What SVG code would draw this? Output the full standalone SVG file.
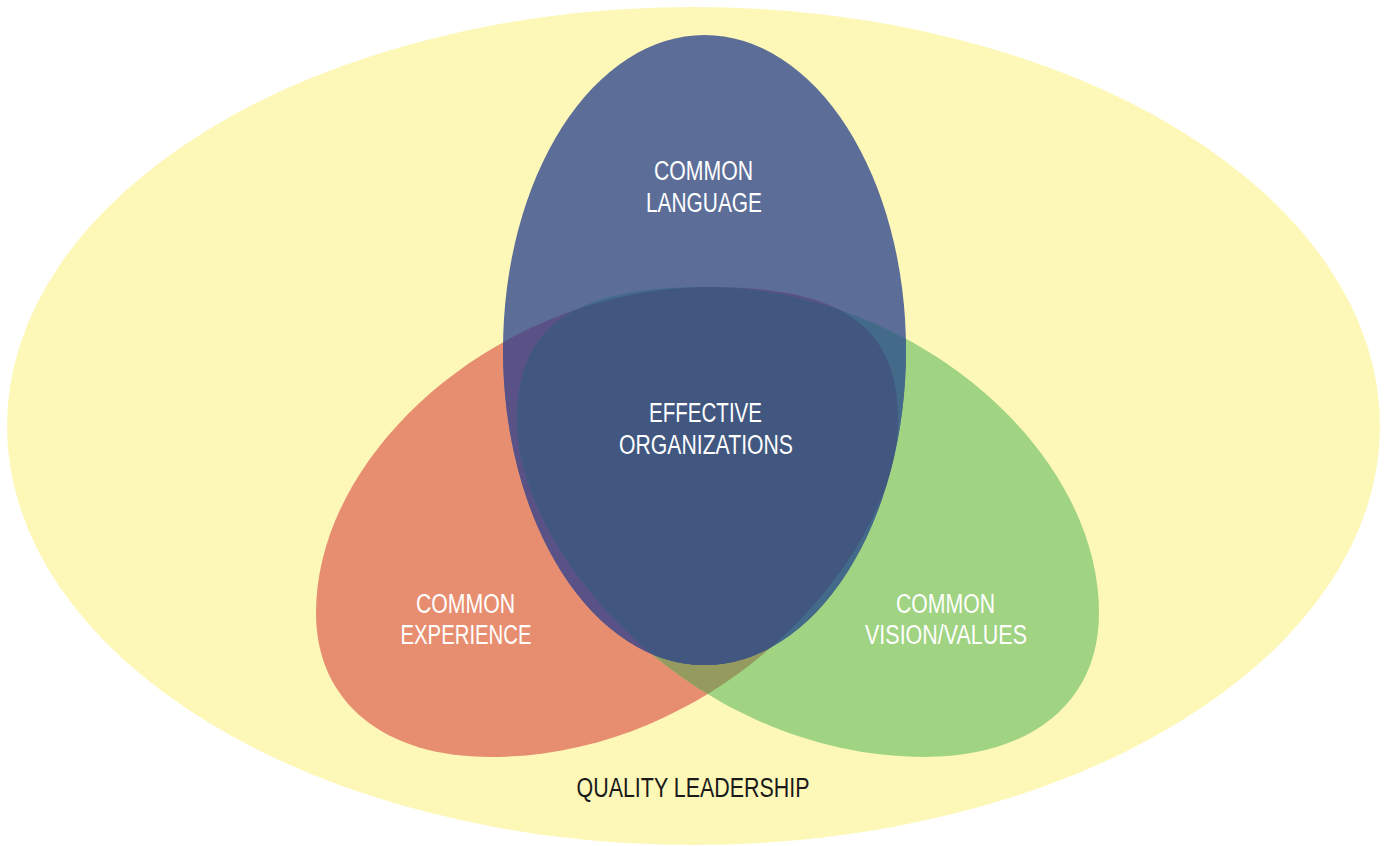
<svg xmlns="http://www.w3.org/2000/svg" xmlns:xlink="http://www.w3.org/1999/xlink" width="1387" height="846" viewBox="0 0 1387 846">
<style>
.lbl{font-family:"Liberation Sans",Arial,sans-serif;font-size:27px;fill:#ffffff;text-anchor:middle}
.dark{fill:#1a1a1a}
</style>
<defs>
<ellipse id="blueShape" cx="704.5" cy="350" rx="201.5" ry="315"/>
<path id="redShape" d="M316,613 C316,448 505,287 710,287 C840,287 898,325 898,420 C898,555 720,757 490,757 C385,757 316,703 316,613 Z"/>
<clipPath id="clipRed"><use xlink:href="#redShape"/></clipPath>
<clipPath id="clipGreen"><use xlink:href="#redShape" transform="translate(1415,0) scale(-1,1)"/></clipPath>
<clipPath id="clipBlue"><use xlink:href="#blueShape"/></clipPath>
</defs>
<g id="quality-leadership">
<ellipse cx="693.5" cy="426" rx="686.5" ry="419" fill="#fdf8b8"/>
<text class="lbl dark" x="693" y="797" textLength="233" lengthAdjust="spacingAndGlyphs">QUALITY LEADERSHIP</text>
</g>
<g id="common-experience">
<use xlink:href="#redShape" fill="#e88e70"/>
</g>
<g id="common-vision">
<use xlink:href="#redShape" transform="translate(1415,0) scale(-1,1)" fill="#a0d382"/>
<g clip-path="url(#clipRed)"><use xlink:href="#redShape" transform="translate(1415,0) scale(-1,1)" fill="#959b5e"/></g>
</g>
<g id="common-language">
<use xlink:href="#blueShape" fill="#5c6e98"/>
<g clip-path="url(#clipBlue)"><use xlink:href="#redShape" fill="#5a5186"/></g>
<g clip-path="url(#clipBlue)"><use xlink:href="#redShape" transform="translate(1415,0) scale(-1,1)" fill="#446a8a"/></g>
</g>
<g id="effective-organizations">
<g clip-path="url(#clipBlue)"><g clip-path="url(#clipRed)"><use xlink:href="#redShape" transform="translate(1415,0) scale(-1,1)" fill="#41577f"/></g></g>
<text class="lbl" x="705.5" y="422" textLength="113" lengthAdjust="spacingAndGlyphs">EFFECTIVE</text>
<text class="lbl" x="706" y="454" textLength="174" lengthAdjust="spacingAndGlyphs">ORGANIZATIONS</text>
</g>
<g id="labels">
<text class="lbl" x="703.5" y="180" textLength="99" lengthAdjust="spacingAndGlyphs">COMMON</text>
<text class="lbl" x="704" y="211.5" textLength="116" lengthAdjust="spacingAndGlyphs">LANGUAGE</text>
<text class="lbl" x="465.5" y="613" textLength="99" lengthAdjust="spacingAndGlyphs">COMMON</text>
<text class="lbl" x="466" y="644" textLength="131" lengthAdjust="spacingAndGlyphs">EXPERIENCE</text>
<text class="lbl" x="945.5" y="613" textLength="99" lengthAdjust="spacingAndGlyphs">COMMON</text>
<text class="lbl" x="946" y="644" textLength="162" lengthAdjust="spacingAndGlyphs">VISION/VALUES</text>
</g>
<g id="connectors"/>
</svg>
